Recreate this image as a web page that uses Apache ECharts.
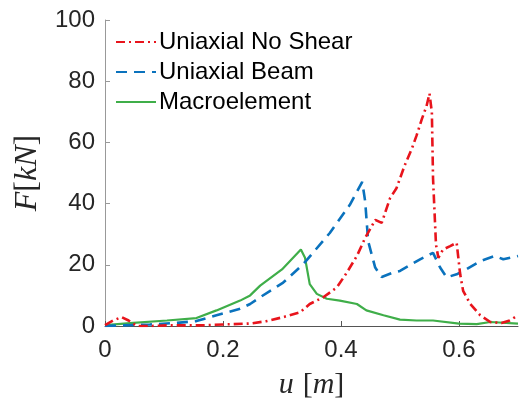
<!DOCTYPE html>
<html>
<head>
<meta charset="utf-8">
<script src="https://cdn.jsdelivr.net/npm/echarts@6/dist/echarts.min.js"></script>
<style>
html,body{margin:0;padding:0;background:#fff;}
#chart{width:520px;height:405px;}
</style>
</head>
<body>
<div id="chart"></div>
<script>
var seriesNames = ['Uniaxial No Shear', 'Uniaxial Beam', 'Macroelement'];
var xTicks = [0, 0.2, 0.4, 0.6];
var yTicks = [0, 20, 40, 60, 80, 100];

var noShearU = [0,0.014,0.028,0.04,0.054,0.076,0.105,0.16,0.2,0.246,0.274,0.302,0.331,0.347,0.37,0.393,0.41,0.427,0.441,0.458,0.469,0.483,0.494,0.508,0.52,0.528,0.537,0.545,0.55,0.554,0.556,0.561,0.565,0.573,0.585,0.596,0.602,0.607,0.619,0.636,0.653,0.672,0.686,0.7];
var noShearF = [0.3,1.8,2.9,1.8,0,0,0.2,0.2,0.5,0.8,1.6,2.9,4.5,7.2,9.4,12.6,17.5,22.9,28.8,34.7,33.7,41.7,45,52.5,57.9,62.2,67.6,71.9,76,69.8,48.2,26.6,22.3,25,26.1,27.2,16.9,11.5,7.2,3.5,1.3,1.0,1.8,3.5];

var beamU = [0,0.076,0.12,0.155,0.189,0.229,0.246,0.263,0.302,0.336,0.381,0.415,0.436,0.441,0.446,0.458,0.469,0.489,0.5,0.534,0.556,0.568,0.579,0.596,0.613,0.636,0.661,0.675,0.7];
var beamF = [0,0.5,1.0,1.6,3.5,5.6,7.2,9.4,14.2,20.2,30.4,39.6,47.1,40.7,27.7,19.1,16.0,17.5,18.0,21.8,23.9,19.1,15.9,16.9,18.6,21.2,22.9,21.8,22.9];

var macroU = [0,0.048,0.105,0.155,0.189,0.229,0.246,0.263,0.3,0.332,0.339,0.347,0.359,0.376,0.398,0.427,0.443,0.472,0.5,0.528,0.556,0.6,0.63,0.653,0.7];
var macroF = [0.3,1.0,1.8,2.6,5.1,8.3,10,13.2,18.5,25.0,22.3,13.7,10.5,8.9,8.3,7.2,5.1,3.5,2.1,1.8,1.8,0.8,0.6,1.3,0.8];

function pairs(u, f) { return u.map(function (v, i) { return [v, f[i]]; }); }

var chart = echarts.init(document.getElementById('chart'), null, {renderer: 'canvas'});
var labelFont = {fontFamily: 'Liberation Sans', fontSize: 24, color: '#262626'};
chart.setOption({
  animation: false,
  backgroundColor: '#fff',
  grid: {left: 105, right: 2, top: 20, bottom: 76, containLabel: false},
  legend: {
    left: 110, top: 25, orient: 'vertical',
    itemWidth: 40, itemHeight: 24, itemGap: 6,
    itemStyle: {opacity: 0},
    textStyle: {fontFamily: 'Liberation Sans', fontSize: 24, color: '#000', padding: [0,0,0,-2]},
    data: seriesNames
  },
  xAxis: {
    type: 'value', min: 0, max: 0.7,
    splitLine: {show: false},
    axisLine: {lineStyle: {color: '#555', width: 1}},
    axisTick: {inside: true, length: 5, customValues: xTicks, lineStyle: {color: '#555'}},
    axisLabel: Object.assign({margin: 12, customValues: xTicks, formatter: function (v) { return String(v); }}, labelFont),
    name: '{i|u}{s| }{n|[}{i|m}{n|]}',
    nameLocation: 'middle', nameGap: 44,
    nameTextStyle: {rich: {
      i: {fontFamily: 'Liberation Serif', fontStyle: 'italic', fontSize: 30, color: '#262626'},
      n: {fontFamily: 'Liberation Serif', fontSize: 30, color: '#262626'},
      s: {fontFamily: 'Liberation Serif', fontSize: 30, width: 9}
    }}
  },
  yAxis: {
    type: 'value', min: 0, max: 100, interval: 20,
    splitLine: {show: false},
    axisLine: {show: true, lineStyle: {color: '#999', width: 1}},
    axisTick: {show: true, inside: true, length: 5, lineStyle: {color: '#999'}},
    axisLabel: Object.assign({margin: 10, customValues: yTicks}, labelFont),
    name: '{i|F}{n|[}{i|kN}{n|]}',
    nameLocation: 'middle', nameGap: 60, nameRotate: 90,
    nameTextStyle: {rich: {
      i: {fontFamily: 'Liberation Serif', fontStyle: 'italic', fontSize: 32, color: '#262626'},
      n: {fontFamily: 'Liberation Serif', fontSize: 32, color: '#262626'}
    }}
  },
  series: [
    {name: seriesNames[0], type: 'line', symbol: 'none', z: 3,
     data: pairs(noShearU, noShearF),
     lineStyle: {color: '#e8141c', width: 2.6, type: [9, 4, 2, 4]}, itemStyle: {color: '#e8141c'}},
    {name: seriesNames[1], type: 'line', symbol: 'none', z: 2,
     data: pairs(beamU, beamF),
     lineStyle: {color: '#0a72bd', width: 2.6, type: [11, 7]}, itemStyle: {color: '#0a72bd'}},
    {name: seriesNames[2], type: 'line', symbol: 'none', z: 1,
     data: pairs(macroU, macroF),
     lineStyle: {color: '#3fae49', width: 2.2, type: 'solid'}, itemStyle: {color: '#3fae49'}}
  ]
});
</script>
</body>
</html>
